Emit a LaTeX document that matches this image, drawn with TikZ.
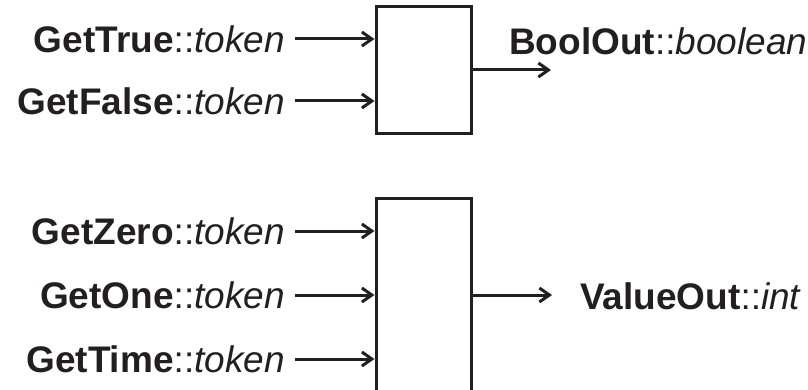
\documentclass[tikz,border=0pt]{standalone}
\usepackage{fontspec}
\setmainfont{Liberation Sans}
\usetikzlibrary{arrows.meta}
\definecolor{ink}{HTML}{231F20}
\begin{document}
\begin{tikzpicture}[x=1pt,y=-1pt,
  lbl/.style={inner sep=0pt,text=ink,font=\fontsize{37}{44}\selectfont},
  blk/.style={draw=ink,line width=3pt,minimum width=95pt,inner sep=0pt},
  arr/.style={draw=ink,line width=3pt,-{Straight Barb[length=10pt,width=14pt]}}]
\clip (0,0) rectangle (808,390);
\fill[white] (0,0) rectangle (808,390);
% boxes
\node[blk,minimum height=127pt] (b1) at (423.5,70.5) {};
\node[blk,minimum height=211pt] (b2) at (423.5,304.5) {};
% input labels
\node[lbl,anchor=east] (gt) at (285,39) {\textbf{GetTrue}::\textit{token}};
\node[lbl,anchor=east] (gf) at (285,101) {\textbf{GetFalse}::\textit{token}};
\node[lbl,anchor=east] (gz) at (285,231) {\textbf{GetZero}::\textit{token}};
\node[lbl,anchor=east] (go) at (285,295) {\textbf{GetOne}::\textit{token}};
\node[lbl,anchor=east] (gm) at (285,359) {\textbf{GetTime}::\textit{token}};
% output labels
\node[lbl,anchor=west] (bo) at (509,41) {\textbf{BoolOut}::\textit{boolean}};
\node[lbl,anchor=west] (vo) at (580,296) {\textbf{ValueOut}::\textit{int}};
\coordinate (o1) at (551,70);
\coordinate (o2) at (552,295);
% input arrows
\foreach \n/\b in {gt/b1,gf/b1,gz/b2,go/b2,gm/b2}
  \draw[arr] ([xshift=10pt]\n.east) -- (\n.east -| \b.west);
% outputs
\draw[arr] (b1.east |- o1) -- (o1);
\draw[arr] (b2.east |- o2) -- (o2);
\end{tikzpicture}
\end{document}
